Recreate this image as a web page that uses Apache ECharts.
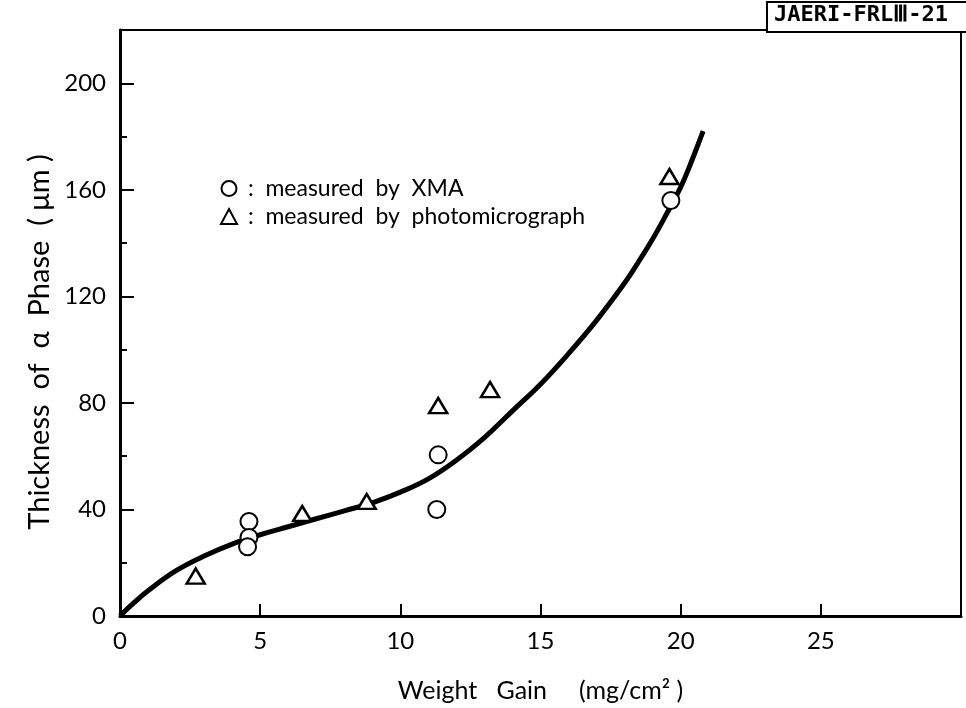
<!DOCTYPE html>
<html>
<head>
<meta charset="utf-8">
<script src="https://cdn.jsdelivr.net/npm/echarts@6/dist/echarts.min.js"></script>
<style>
  html, body { margin: 0; padding: 0; background: #fff; }
  #chart { width: 966px; height: 708px; }
</style>
</head>
<body>
<div id="chart"></div>
<script>
// Weight gain (mg/cm2) vs thickness of the alpha phase (um)
const xmaGain = [4.6, 4.6, 4.55, 11.3, 11.35, 19.65];
const xmaThickness = [35.5, 29.5, 26, 40, 60.5, 156];

const photoGain = [2.7, 6.5, 8.8, 11.35, 13.2, 19.6];
const photoThickness = [15, 38.5, 43, 79, 85, 165];

// hand-fitted trend curve
const curveGain = [0, 0.5, 1, 2, 3, 4, 5, 6, 7, 8, 9, 10, 11, 12, 13, 14, 15, 16, 17, 18, 18.5, 19, 19.5, 20, 20.4, 20.8];
const curveThickness = [0, 5, 9.5, 17, 22.5, 27, 30.5, 33.5, 36.5, 39.5, 42.5, 46.5, 51.5, 58.5, 67, 77, 87, 98.5, 111, 125, 133, 141.5, 151, 161, 171, 182];

const xTicks = { min: 0, max: 30, interval: 5 };
const yTicks = { min: 0, max: 220, interval: 40 };

const pairs = (xs, ys) => xs.map((x, i) => [x, ys[i]]);

const FONT = 'Lato, "DejaVu Sans", sans-serif';
const chart = echarts.init(document.getElementById('chart'), null, { renderer: 'canvas' });

chart.setOption({
  backgroundColor: '#ffffff',
  animation: false,
  grid: {
    left: 120, right: 5, top: 30, bottom: 92,
    show: true, borderColor: '#000', borderWidth: 2, backgroundColor: 'transparent'
  },
  xAxis: {
    type: 'value',
    min: xTicks.min, max: xTicks.max, interval: xTicks.interval,
    axisLine: { onZero: false, lineStyle: { color: '#000', width: 3 } },
    axisTick: { inside: true, length: 12, lineStyle: { color: '#000', width: 2 } },
    splitLine: { show: false },
    axisLabel: {
      color: '#000', fontFamily: FONT, fontSize: 24, margin: 13,
      formatter: v => (v >= xTicks.max ? '' : String(v))
    },
    name: 'Weight   Gain     (mg/cm\u00B2 )',
    nameLocation: 'middle', nameGap: 62,
    nameTextStyle: { color: '#000', fontFamily: FONT, fontSize: 25 }
  },
  yAxis: {
    type: 'value',
    min: yTicks.min, max: yTicks.max, interval: yTicks.interval,
    axisLine: { onZero: false, lineStyle: { color: '#000', width: 3 } },
    axisTick: { inside: true, length: 14, lineStyle: { color: '#000', width: 2 } },
    minorTick: { show: true, splitNumber: 2, length: 7, lineStyle: { color: '#000', width: 2 } },
    splitLine: { show: false },
    minorSplitLine: { show: false },
    axisLabel: {
      color: '#000', fontFamily: FONT, fontSize: 24, margin: 14,
      formatter: v => (v > 200 ? '' : String(v))
    }
  },
  legend: {
    orient: 'vertical',
    left: 220, top: 177,
    padding: 0,
    itemGap: 5,
    itemWidth: 16, itemHeight: 15,
    data: [
      { name: 'measured  by  XMA', icon: 'circle' },
      { name: 'measured  by  photomicrograph', icon: 'triangle' }
    ],
    formatter: n => ' :  ' + n,
    textStyle: { color: '#000', fontFamily: FONT, fontSize: 23 },
    itemStyle: { color: '#fff', borderColor: '#000', borderWidth: 2 }
  },
  series: [
    {
      name: 'curve', type: 'line',
      data: pairs(curveGain, curveThickness),
      smooth: 0.4, showSymbol: false, symbol: 'none',
      lineStyle: { color: '#000', width: 5 },
      z: 2
    },
    {
      name: 'measured  by  XMA', type: 'scatter',
      data: pairs(xmaGain, xmaThickness),
      symbol: 'circle', symbolSize: 17,
      itemStyle: { color: '#fff', borderColor: '#000', borderWidth: 2, opacity: 1 },
      z: 3
    },
    {
      name: 'measured  by  photomicrograph', type: 'scatter',
      data: pairs(photoGain, photoThickness),
      symbol: 'triangle', symbolSize: [18, 15],
      itemStyle: { color: '#fff', borderColor: '#000', borderWidth: 2.5, opacity: 1 },
      z: 3
    }
  ],
  graphic: [
    {
      type: 'text', x: 40, y: 342, rotation: Math.PI / 2,
      style: {
        text: 'Thickness  of  \u03B1  Phase  ( \u03BCm )',
        fill: '#000',
        font: '29px Lato, "DejaVu Sans", sans-serif',
        align: 'center', verticalAlign: 'middle'
      }
    },
    {
      type: 'rect', left: 766, top: 1,
      shape: { width: 210, height: 30 },
      style: { fill: '#fff', stroke: '#000', lineWidth: 2 },
      z: 10
    },
    {
      type: 'text', left: 774, top: 4,
      style: {
        text: 'JAERI-FRL\u2162-21',
        fill: '#000',
        font: 'bold 22px "DejaVu Sans Mono", "Liberation Mono", monospace'
      },
      z: 11
    }
  ]
});
</script>
</body>
</html>
